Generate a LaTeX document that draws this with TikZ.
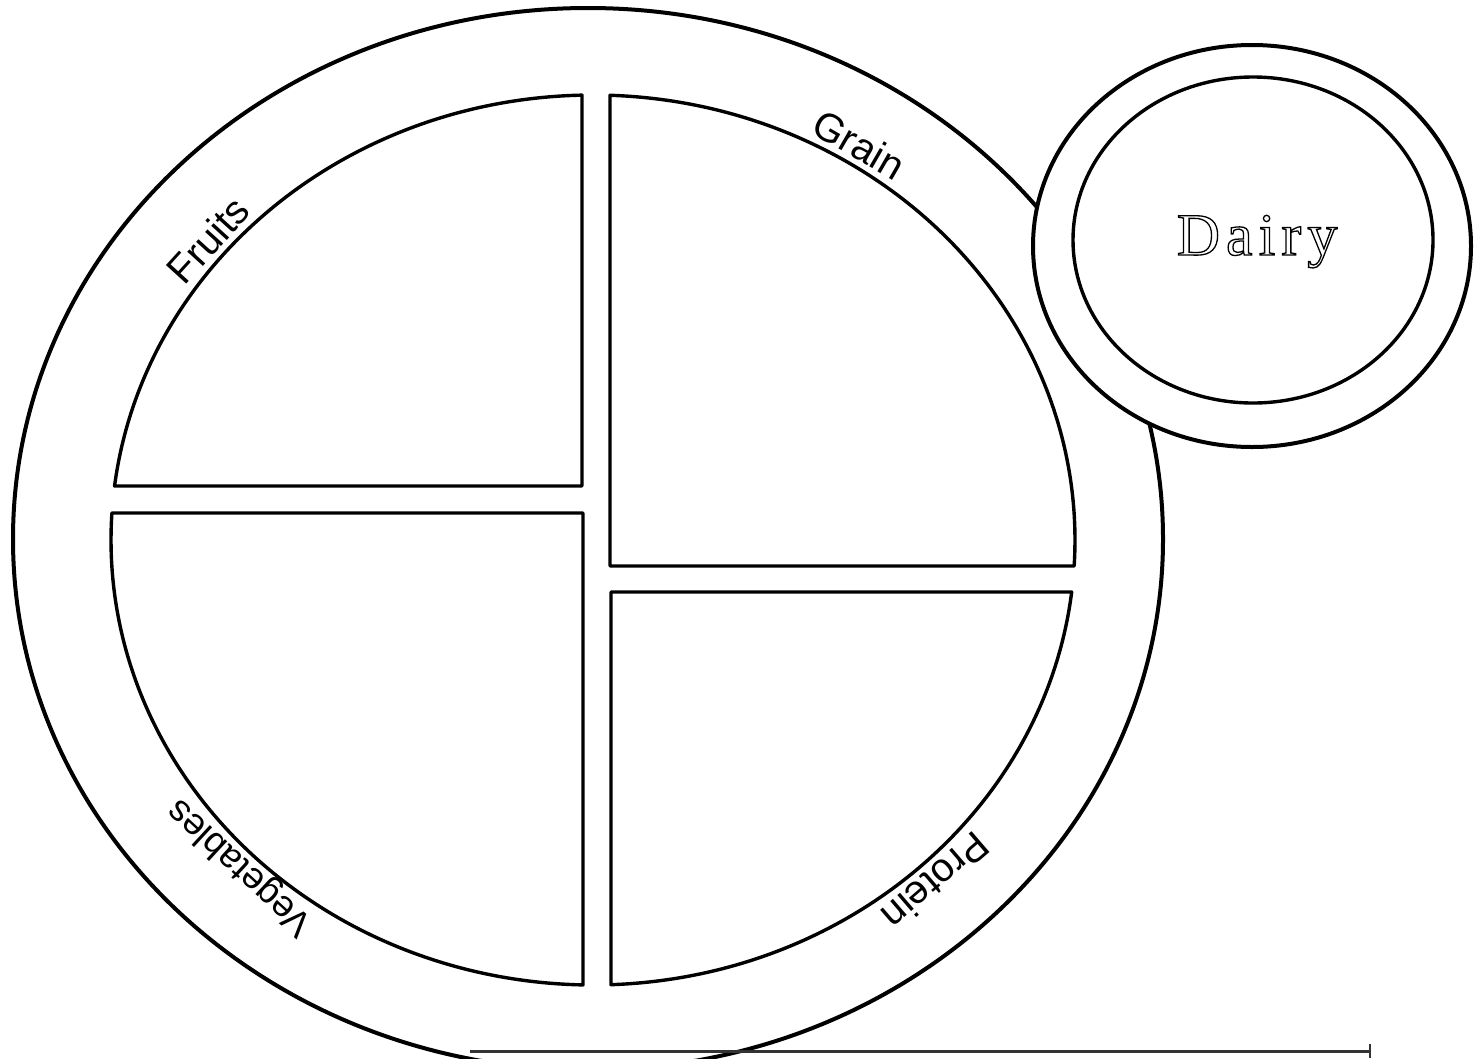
\documentclass[tikz,border=0pt]{standalone}
\usepackage{fontspec}
\setmainfont{Liberation Serif}
\newfontfamily\handfont{Liberation Sans}
\newfontfamily\dairyfont[LetterSpace=10]{Liberation Serif}
\usetikzlibrary{calc}
\begin{document}
\begin{tikzpicture}[x=1pt,y=1pt,
  plate/.style={line width=4pt},
  part/.style={line width=3.4pt, line join=round},
  lbl/.style={font=\handfont\fontsize{40}{40}\selectfont, anchor=base, inner sep=0pt}]
\fill[white] (0,0) rectangle (1479,-1058);
\useasboundingbox (0,0) rectangle (1479,-1058);
% plate rim
\draw[plate] (588,-539) ellipse [x radius=575, y radius=531];
\coordinate (ic) at (593,-540);
% fruits
\draw[part] (582,-486) -- ($(ic)+(173.03:482 and 445)$)
  arc[start angle=173.03, end angle=91.31, x radius=482, y radius=445] -- cycle;
% vegetables
\draw[part] (583,-513) -- ($(ic)+(176.52:482 and 445)$)
  arc[start angle=176.52, end angle=268.81, x radius=482, y radius=445] -- cycle;
% grain
\draw[part] (610,-566) -- ($(ic)+(87.98:482 and 445)$)
  arc[start angle=87.98, end angle=-3.35, x radius=482, y radius=445] -- cycle;
% protein
\draw[part] (611,-592) -- ($(ic)+(-6.71:482 and 445)$)
  arc[start angle=-6.71, end angle=-87.86, x radius=482, y radius=445] -- cycle;
% labels
\node[lbl, rotate=47.7] (fruits) at ($(ic)+(140:489 and 452)$) {Fruits};
\node[lbl, rotate=-30] (grain) at ($(ic)+(58:489 and 452)$) {Grain};
\node[lbl, rotate=137.3, font=\handfont\fontsize{37}{37}\selectfont] (veg) at ($(ic)+(225:489 and 452)$) {Vegetables};
\node[lbl, rotate=220.7] (protein) at ($(ic)+(313:489 and 452)$) {Protein};
% dairy cup
\draw[plate, fill=white] (1252,-246) ellipse [x radius=219, y radius=201];
\draw[part] (1253,-240) ellipse [x radius=180, y radius=163];
\node[anchor=base, inner sep=0pt, font=\dairyfont\fontsize{60}{60}\selectfont] (dairy) at (1257,-255)
  {\special{pdf:literal direct 1 Tr 1.3 w}Dairy\special{pdf:literal direct 0 Tr}};
% bottom edge line
\coordinate (bl) at (470,-1051);
\coordinate (br) at (1370,-1051);
\draw[line width=3pt, black!80] (bl) -- (br);
\draw[line width=2pt, black!80] ($(br)+(0,7)$) -- ($(br)+(0,-7)$);
\end{tikzpicture}
\end{document}
